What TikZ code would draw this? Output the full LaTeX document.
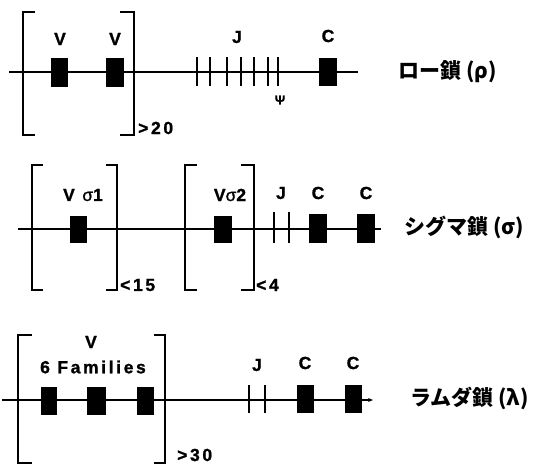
\documentclass[tikz,border=0pt]{standalone}
\usepackage{fontspec}
\setmainfont{Liberation Sans}
\newfontfamily\jp{Noto Sans CJK JP}
\newfontfamily\widefont{Liberation Sans}[LetterSpace=15, FakeBold=1.2]
\usetikzlibrary{arrows.meta}
\tikzset{
  seg/.style={fill=black, draw=none, inner sep=0pt, minimum width=18pt, minimum height=28pt},
  chain/.style={line width=2pt},
  brk/.style={line width=2.5pt},
  tick/.style={line width=2.5pt},
  lbl/.style={font=\widefont\fontsize{17.5}{17.5}\selectfont\bfseries, inner sep=0pt},
  num/.style={font=\widefont\fontsize{17.5}{17.5}\selectfont\bfseries, inner sep=0pt, anchor=west},
  chainname/.style={font=\jp\fontsize{21}{21}\selectfont\bfseries, inner sep=0pt, anchor=west}
}
\begin{document}
\begin{tikzpicture}[x=1pt, y=-1pt]
\useasboundingbox (0,0) rectangle (542,466);

% ---------- rho chain ----------
\coordinate (r0) at (9,72);
\coordinate (r1) at (358,72);
\draw[chain] (r0) -- (r1);
\draw[brk] (35,12) -- (23,12) -- (23,135) -- (35,135);
\draw[brk] (120,12) -- (134,12) -- (134,135) -- (120,135);
\node[seg, minimum width=17pt, minimum height=29pt] (rv1) at (59.5,72.5) {};
\node[seg, minimum height=29pt] (rv2) at (115,72.5) {};
\node[seg] (rc) at (328,72) {};
\foreach \x in {197,210,227,241,254,268,278}
  \draw[tick] (\x,57) -- (\x,86);
\node[lbl] (rv1l) at (60,39) {V};
\node[lbl] (rv2l) at (115,39) {V};
\node[lbl] (rjl) at (237,37) {J};
\node[lbl] (rcl) at (328,36) {C};
\node[font=\widefont\fontsize{13}{13}\selectfont\bfseries, inner sep=0pt] (rpsi) at (280,100) {Ψ};
\node[num] (rn) at (138,128) {>20};
\node[chainname] (rname) at (398,72) {ロー鎖 (ρ)};

% ---------- sigma chain ----------
\coordinate (s0) at (18,229);
\coordinate (s1) at (381,229);
\draw[chain] (s0) -- (s1);
\draw[brk] (43,165) -- (32,165) -- (32,290) -- (43,290);
\draw[brk] (106,165) -- (117,165) -- (117,290) -- (106,290);
\draw[brk] (197,165) -- (185,165) -- (185,290) -- (197,290);
\draw[brk] (241,165) -- (254,165) -- (254,290) -- (241,290);
\node[seg, minimum width=17pt, minimum height=27pt] (sv1) at (78.5,229.5) {};
\node[seg, minimum height=27pt] (sv2) at (223,229.5) {};
\node[seg, minimum height=29pt] (sc1) at (318,228.5) {};
\node[seg, minimum height=29pt] (sc2) at (366,228.5) {};
\foreach \x in {274,289}
  \draw[tick] (\x,212) -- (\x,243);
\node[lbl] (sv1l) at (83,195) {V {\mdseries σ}1};
\node[lbl] (sv2l) at (230,195) {V{\mdseries σ}2};
\node[lbl] (sjl) at (281,193) {J};
\node[lbl] (sc1l) at (318,193) {C};
\node[lbl] (sc2l) at (366,193) {C};
\node[num] (sn1) at (120,285) {<15};
\node[num] (sn2) at (256,285) {<4};
\node[chainname] (sname) at (404,227) {シグマ鎖 (σ)};

% ---------- lambda chain ----------
\coordinate (l0) at (2,400);
\coordinate (l1) at (373,400);
\draw[chain, -{Stealth[length=5pt, width=4pt]}] (l0) -- (l1);
\draw[brk] (32,335) -- (18,335) -- (18,463) -- (32,463);
\draw[brk] (154,335) -- (165,335) -- (165,463) -- (154,463);
\node[seg, minimum width=16pt] (lv1) at (49,401) {};
\node[seg, minimum width=19pt] (lv2) at (96.5,401) {};
\node[seg, minimum width=17pt] (lv3) at (145.5,401) {};
\node[seg, minimum width=17pt] (lc1) at (305.5,399) {};
\node[seg, minimum width=17pt] (lc2) at (353.5,399) {};
\foreach \x in {249,265}
  \draw[tick] (\x,385) -- (\x,413);
\node[lbl] (lvl) at (91,342) {V};
\node[lbl] (lfam) at (93,367) {6 Families};
\node[lbl] (ljl) at (257,365) {J};
\node[lbl] (lc1l) at (305,363) {C};
\node[lbl] (lc2l) at (353,363) {C};
\node[num] (ln) at (177,455) {>30};
\node[chainname] (lname) at (410,398) {ラムダ鎖 (λ)};
\end{tikzpicture}
\end{document}
